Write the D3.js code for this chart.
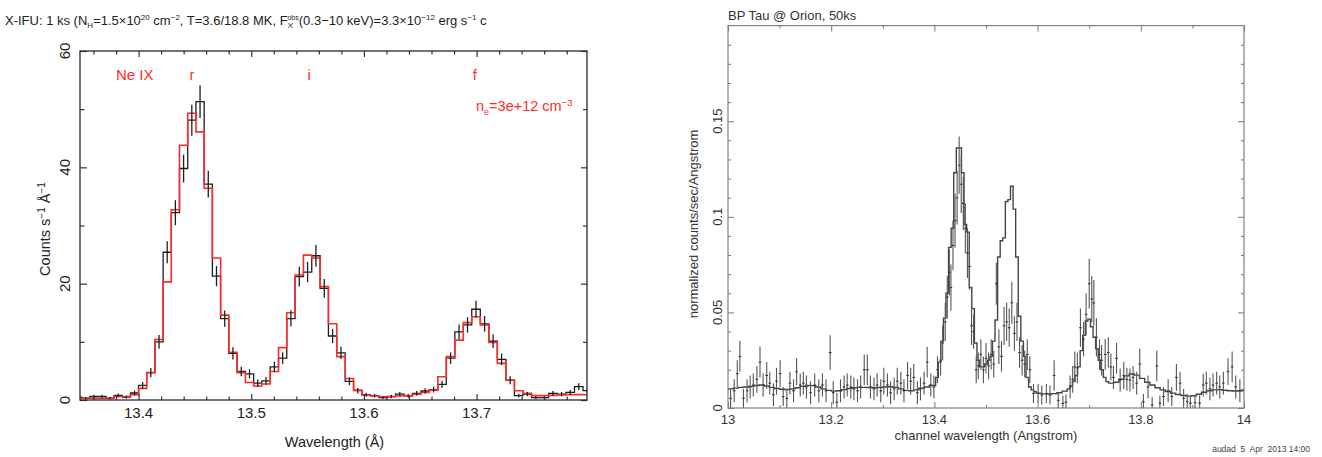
<!DOCTYPE html>
<html><head><meta charset="utf-8">
<script src="https://cdn.jsdelivr.net/npm/d3@7"></script>
<style>
body{margin:0;background:#fff}
svg{display:block}
text{font-family:"Liberation Sans", Arial, Helvetica, sans-serif}
</style>
</head><body>
<svg id="c" width="1322" height="457"></svg>
<script>
// ================= LEFT PANEL DATA (X-IFU, Ne IX triplet) =================
const leftBinEdges = [13.3424,13.3495,13.3567,13.3639,13.3711,13.3783,13.3855,13.3928,
  13.4000,13.4072,13.4145,13.4218,13.4290,13.4363,13.4436,13.4509,13.4582,13.4655,13.4728,13.4801,
  13.4874,13.4948,13.5021,13.5094,13.5168,13.5242,13.5315,13.5389,13.5463,13.5537,13.5611,13.5685,
  13.5759,13.5834,13.5908,13.5983,13.6057,13.6132,13.6206,13.6281,13.6356,13.6431,13.6506,13.6581,
  13.6656,13.6731,13.6807,13.6882,13.6957,13.7033,13.7109,13.7184,13.7260,13.7336,13.7412,13.7488,
  13.7564,13.7640,13.7716,13.7793,13.7869,13.7945,13.8022];
const leftCounts = [0.5,0.3,0.6,0.6,0.3,0.8,0.5,1.2,
  2.5,4.7,10.0,25.4,32.2,39.8,48.1,51.3,37.1,21.3,14.0,8.0,4.9,4.5,2.9,3.3,5.7,7.2,14.0,21.2,22.0,24.8,
  19.2,11.0,8.1,3.2,1.6,0.9,0.75,0.4,0.6,1.0,0.7,1.15,1.55,1.8,2.7,7.2,11.7,12.9,15.6,13.1,10.1,7.0,
  3.4,0.75,1.0,0.4,0.4,1.15,1.0,1.3,2.3,1.6];
const leftErr = [0.26,0.2,0.29,0.29,0.2,0.33,0.26,0.41,
  0.59,0.8,1.17,1.9,2.15,2.4,2.65,2.8,2.3,1.75,1.4,1.05,0.82,0.79,0.63,0.67,0.88,0.99,1.38,1.7,1.74,1.85,
  1.62,1.23,1.05,0.66,0.47,0.35,0.32,0.23,0.29,0.37,0.31,0.4,0.46,0.5,0.61,0.99,1.27,1.33,1.46,1.34,1.18,0.98,
  0.68,0.32,0.37,0.23,0.23,0.4,0.37,0.42,0.56,0.47];
const leftModel = [0.3,0.3,0.3,0.3,0.3,0.6,0.6,0.9,
  2.0,4.7,10.4,20.3,32.7,43.8,49.3,46.1,36.4,24.4,14.6,8.2,4.7,3.0,2.4,2.75,4.9,9.0,15.0,21.5,24.9,24.4,
  19.5,13.1,7.45,3.7,1.7,0.86,0.7,0.57,0.57,0.7,0.75,1.0,1.3,1.7,4.0,7.45,10.3,13.3,14.3,12.9,9.9,6.3,
  3.4,1.6,1.15,0.75,0.75,0.8,0.86,0.92,0.92,0.9];
const leftXTicks = [13.4,13.5,13.6,13.7];
const leftXTickLabels = ["13.4","13.5","13.6","13.7"];
const leftYTicks = [0,20,40,60];
const leftYTickLabels = ["0","20","40","60"];
const leftLines = [{label:"r", wl:13.4475},{label:"i", wl:13.5515},{label:"f", wl:13.6985}];

// ================= RIGHT PANEL DATA (BP Tau @ Orion, 50ks) =================
const rightModelEdges = [13.00,13.01,13.02,13.03,13.04,13.05,13.06,13.07,13.08,13.09,13.10,13.11,13.12,13.13,13.14,
  13.15,13.16,13.17,13.18,13.19,13.20,13.21,13.22,13.23,13.24,13.25,13.26,13.27,13.28,13.29,13.30,13.31,13.32,13.33,
  13.34,13.35,13.36,13.37,13.38,13.39,
  13.4025,13.4075,13.4125,13.4175,13.4225,13.4275,13.4325,13.4375,13.4425,13.4475,13.4525,13.4575,13.4625,13.4675,
  13.4725,13.4775,13.4825,13.4875,13.4925,13.4975,13.5025,13.5075,13.5125,13.5175,13.5225,13.5275,13.5325,13.5375,
  13.5425,13.5475,13.5525,13.5575,13.5625,13.5675,13.5725,13.5775,13.5825,13.5875,13.5925,
  13.5975,13.6075,13.6175,13.6275,13.6375,13.6475,13.6575,
  13.6625,13.6675,13.6725,13.6775,13.6825,13.6875,13.6925,13.6975,13.7025,13.7075,13.7125,13.7175,13.7225,13.7275,
  13.7325,13.7375,13.7425,13.7475,
  13.7575,13.7675,13.7775,13.7875,13.7975,13.8075,13.8175,13.8275,13.8375,13.8475,13.8575,13.8675,13.8775,13.8875,
  13.8975,13.9075,13.9175,13.9275,13.9375,13.9475,13.9575,13.9675,13.9775,13.9875,13.9975,14.0];
const rightModel = [0.0100,0.0104,0.0108,0.0110,0.0113,0.0118,0.0120,0.0115,0.0108,0.0102,0.0098,0.0097,0.0100,0.0106,
  0.0113,0.0118,0.0117,0.0110,0.0100,0.0092,0.0088,0.0090,0.0096,0.0102,0.0106,0.0108,0.0108,0.0107,0.0106,0.0107,
  0.0110,0.0111,0.0108,0.0100,0.0092,0.0090,0.0095,0.0103,0.0110,0.0118,
  0.016,0.024,0.035,0.047,0.060,0.084,0.094,0.123,0.136,0.136,0.123,0.096,0.092,0.063,0.052,0.034,0.025,0.0215,0.0215,
  0.023,0.025,0.027,0.035,0.046,0.079,0.0875,0.089,0.108,0.109,0.116,0.104,0.079,0.048,0.035,0.027,0.016,0.011,0.0095,0.0085,
  0.0078,0.0074,0.0073,0.0075,0.0080,0.0088,0.0100,
  0.0115,0.0140,0.0170,0.0215,0.0300,0.0380,0.0455,0.0465,0.0425,0.0370,0.0310,0.0250,0.0200,0.0160,0.0138,0.0130,0.0130,0.0135,
  0.0150,0.0168,0.0178,0.0172,0.0155,0.0135,0.0120,0.0106,0.0095,0.0086,0.0078,0.0071,0.0065,0.0062,0.0064,0.0072,0.0082,
  0.0090,0.0095,0.0096,0.0093,0.0090,0.0089,0.0090,0.0092];
const rightWl = [13.005,13.012,13.018,13.023,13.030,13.037,13.043,13.049,13.056,13.062,13.068,13.075,13.081,13.088,13.094,
  13.101,13.107,13.114,13.120,13.127,13.133,13.140,13.146,13.152,13.160,13.168,13.176,13.183,13.190,13.198,13.204,13.211,
  13.218,13.225,13.231,13.238,13.244,13.251,13.257,13.264,13.270,13.276,13.283,13.289,13.296,13.302,13.309,13.315,13.322,
  13.328,13.335,13.341,13.348,13.354,13.360,13.367,13.373,13.380,13.386,13.393,13.399,
  13.406,13.412,13.416,13.421,13.425,13.429,13.432,13.436,13.440,13.444,13.448,13.452,13.456,13.460,13.464,13.468,13.472,
  13.476,13.481,13.485,13.490,13.495,13.500,13.505,13.510,13.515,13.520,13.525,13.530,13.535,13.540,13.545,13.550,13.555,
  13.560,13.565,13.570,13.575,13.580,13.585,
  13.592,13.601,13.608,13.617,13.624,13.632,13.640,13.649,13.655,13.663,13.668,13.672,13.677,13.683,13.689,13.694,13.700,
  13.705,13.709,13.714,13.720,13.724,13.731,13.737,13.742,13.747,13.753,13.760,13.767,13.773,13.779,13.785,13.792,13.798,
  13.805,13.814,13.822,13.831,13.837,13.844,13.853,13.860,13.869,13.876,13.883,13.890,13.896,13.905,13.914,13.921,13.927,
  13.934,13.940,13.947,13.953,13.960,13.969,13.977,13.984,13.992];
const rightFlux = [0.005,0.009,0.018,0.027,0.005,0.009,0.011,0.012,0.015,0.024,0.012,0.017,0.013,0.007,0.014,
  0.018,0.006,0.005,0.013,0.009,0.019,0.012,0.013,0.011,0.008,0.012,0.009,0.012,0.009,0.029,0.008,0.003,
  0.009,0.011,0.012,0.011,0.010,0.009,0.011,0.020,0.020,0.011,0.010,0.012,0.009,0.014,0.012,0.008,0.010,
  0.014,0.013,0.009,0.017,0.014,0.016,0.008,0.010,0.013,0.024,0.012,0.011,
  0.020,0.025,0.034,0.045,0.058,0.071,0.063,0.085,0.098,0.110,0.127,0.117,0.107,0.094,0.081,0.074,0.043,
  0.040,0.020,0.022,0.028,0.020,0.026,0.022,0.028,0.023,0.065,0.032,0.027,0.043,0.045,0.042,0.055,0.039,
  0.045,0.029,0.025,0.023,0.028,0.020,
  0.0076,0.0076,0.0068,0.0076,0.0068,0.017,0.004,0.0024,0.003,0.011,0.015,0.0215,0.021,0.042,0.036,0.049,0.065,
  0.057,0.055,0.037,0.028,0.025,0.028,0.029,0.0215,0.016,0.026,0.0146,0.017,0.015,0.0146,0.016,0.013,0.023,
  0.0033,0.011,0.0016,0.022,0.0025,0.006,0.009,0.006,0.016,0.013,0.005,0.0033,0.0025,0.0028,0.0025,0.012,0.013,
  0.010,0.012,0.013,0.011,0.013,0.019,0.0215,0.011,0.009];
const rightErr = [0.005,0.006,0.007,0.008,0.005,0.006,0.006,0.006,0.007,0.008,0.006,0.007,0.006,0.006,0.007,
  0.007,0.005,0.005,0.006,0.006,0.007,0.006,0.006,0.006,0.006,0.006,0.006,0.006,0.006,0.009,0.006,0.005,
  0.006,0.006,0.006,0.006,0.006,0.006,0.006,0.008,0.008,0.006,0.006,0.006,0.006,0.007,0.006,0.006,0.006,
  0.007,0.006,0.006,0.007,0.007,0.007,0.006,0.006,0.006,0.008,0.006,0.006,
  0.007,0.008,0.009,0.010,0.011,0.012,0.012,0.013,0.014,0.014,0.015,0.015,0.014,0.013,0.013,0.012,0.010,
  0.009,0.007,0.007,0.008,0.007,0.008,0.007,0.008,0.007,0.011,0.009,0.008,0.010,0.010,0.010,0.011,0.009,
  0.010,0.008,0.008,0.007,0.008,0.007,
  0.005,0.005,0.005,0.005,0.005,0.008,0.004,0.004,0.004,0.006,0.007,0.008,0.008,0.010,0.009,0.011,0.013,
  0.012,0.012,0.010,0.008,0.008,0.008,0.008,0.007,0.006,0.008,0.006,0.007,0.006,0.006,0.006,0.006,0.008,
  0.004,0.006,0.004,0.008,0.004,0.005,0.006,0.005,0.007,0.006,0.005,0.004,0.004,0.004,0.004,0.006,0.006,
  0.006,0.006,0.006,0.006,0.006,0.007,0.008,0.006,0.006];
const rightXTicks = [13,13.2,13.4,13.6,13.8,14];
const rightXTickLabels = ["13","13.2","13.4","13.6","13.8","14"];
const rightYTicks = [0,0.05,0.1,0.15];
const rightYTickLabels = ["0","0.05","0.1","0.15"];

// ================= DRAWING =================
const svg = d3.select('#c');
const defs = svg.append('defs');

function stepPoints(edges, vals){
  const pts = vals.map((v,i)=>[edges[i], v]);
  pts.push([edges[vals.length], vals[vals.length-1]]);
  return pts;
}
function tickGroup(g, axis, transform){
  g.append('g').attr('transform', transform).call(axis)
    .call(s=>{ s.select('.domain').remove(); s.selectAll('text').remove(); });
}

// ---------- Left panel ----------
const L = {x0:80, x1:587, y0:51, y1:400};
const xL = d3.scaleLinear().domain([13.348, 13.798]).range([L.x0, L.x1]);
const yL = d3.scaleLinear().domain([0, 60]).range([L.y1, L.y0]);
defs.append('clipPath').attr('id','clipL').append('rect')
  .attr('x',L.x0).attr('y',L.y0).attr('width',L.x1-L.x0).attr('height',L.y1-L.y0);

const gL = svg.append('g');
const lineL = d3.line().x(d=>xL(d[0])).y(d=>yL(d[1])).curve(d3.curveStepAfter);
const plotL = gL.append('g').attr('clip-path','url(#clipL)');
plotL.append('path').attr('d', lineL(stepPoints(leftBinEdges, leftCounts)))
  .attr('fill','none').attr('stroke','#1e1e1e').attr('stroke-width',1.3);
plotL.append('path').attr('d', lineL(stepPoints(leftBinEdges, leftModel)))
  .attr('fill','none').attr('stroke','#ff2b2b').attr('stroke-width',1.6);
plotL.selectAll('line.err').data(leftCounts).join('line').attr('class','err')
  .attr('x1',(d,i)=>xL((leftBinEdges[i]+leftBinEdges[i+1])/2))
  .attr('x2',(d,i)=>xL((leftBinEdges[i]+leftBinEdges[i+1])/2))
  .attr('y1',(d,i)=>yL(d-leftErr[i])).attr('y2',(d,i)=>yL(d+leftErr[i]))
  .attr('stroke','#1e1e1e').attr('stroke-width',1.3);

const tickColL = '#333';
const minorXL = d3.range(13.36, 13.79, 0.02).map(v=>+v.toFixed(2)).filter(v=>!leftXTicks.some(t=>Math.abs(t-v)<1e-6));
const minorYL = [10,30,50];
tickGroup(gL, d3.axisBottom(xL).tickValues(leftXTicks).tickSize(-6), `translate(0,${L.y1})`);
tickGroup(gL, d3.axisBottom(xL).tickValues(minorXL).tickSize(-3.5), `translate(0,${L.y1})`);
tickGroup(gL, d3.axisTop(xL).tickValues(leftXTicks).tickSize(-6), `translate(0,${L.y0})`);
tickGroup(gL, d3.axisTop(xL).tickValues(minorXL).tickSize(-3.5), `translate(0,${L.y0})`);
tickGroup(gL, d3.axisLeft(yL).tickValues(leftYTicks).tickSize(-7), `translate(${L.x0},0)`);
tickGroup(gL, d3.axisLeft(yL).tickValues(minorYL).tickSize(-4.5), `translate(${L.x0},0)`);
tickGroup(gL, d3.axisRight(yL).tickValues(leftYTicks).tickSize(-6), `translate(${L.x1},0)`);
tickGroup(gL, d3.axisRight(yL).tickValues(minorYL).tickSize(-4), `translate(${L.x1},0)`);
gL.selectAll('.tick line').attr('stroke',tickColL).attr('stroke-width',1.2);
gL.append('rect').attr('x',L.x0).attr('y',L.y0).attr('width',L.x1-L.x0).attr('height',L.y1-L.y0)
  .attr('fill','none').attr('stroke','#2a2a2a').attr('stroke-width',1.3);

gL.selectAll('text.xt').data(leftXTicks).join('text').attr('class','xt')
  .attr('x',d=>xL(d)).attr('y',418).attr('text-anchor','middle')
  .attr('font-size',15).attr('fill','#222').text((d,i)=>leftXTickLabels[i]);
gL.selectAll('text.yt').data(leftYTicks).join('text').attr('class','yt')
  .attr('transform',d=>`translate(70,${yL(d)}) rotate(-90)`).attr('text-anchor','middle')
  .attr('font-size',15).attr('fill','#222').text((d,i)=>leftYTickLabels[i]);
gL.append('text').attr('x',(L.x0+L.x1)/2+1).attr('y',447).attr('text-anchor','middle')
  .attr('font-size',14.5).attr('fill','#222').text('Wavelength (Å)');

function richText(sel, parts){
  // parts: [text, shift(px, + = down), size, dx]
  let cur = 0;
  parts.forEach(p=>{
    const t = sel.append('tspan').text(p[0]);
    const shift = p[1]||0;
    t.attr('dy', shift-cur); cur = shift;
    if(p[2]) t.attr('font-size', p[2]);
    if(p[3]) t.attr('dx', p[3]);
  });
  return sel;
}
// y title
const yTitleL = gL.append('text').attr('transform','translate(50,229) rotate(-90)')
  .attr('text-anchor','middle').attr('font-size',14.5).attr('fill','#222');
richText(yTitleL, [["Counts s",0],["−1",-5,10],[" Å",0],["−1",-5,10],["",0]]);

// main title
const titleL = svg.append('text').attr('x',5).attr('y',25).attr('font-size',13).attr('fill','#222')
  .attr('xml:space','preserve');
richText(titleL, [
  ["X-IFU: 1 ks (N",0],["H",3,8],["=1.5×10",0],["20",-5,8],[" cm",0],["−2",-5,8],
  [", T=3.6/18.8 MK, F",0],["X",3,8],["obs",-5,7,-5.5],["(0.3−10 keV)=3.3×10",0],["−12",-5,8],
  [" erg s",0],["−1",-5,8],[" c",0]
]);

// red annotations
const red = '#ff2b2b';
gL.append('text').attr('x',116).attr('y',80).attr('font-size',15).attr('fill',red).text('Ne IX');
gL.selectAll('text.ln').data(leftLines).join('text').attr('class','ln')
  .attr('x',d=>xL(d.wl)).attr('y',80).attr('text-anchor','middle').attr('font-size',15).attr('fill',red).text(d=>d.label);
const ne = gL.append('text').attr('x',476).attr('y',111).attr('font-size',14.5).attr('fill',red);
richText(ne, [["n",0],["e",4,9],["=3e+12 cm",0],["−3",-5,9.5],["",0]]);

// ---------- Right panel ----------
const R = {x0:728, x1:1244, y0:25.6, y1:408};
const xR = d3.scaleLinear().domain([13, 14]).range([R.x0, R.x1]);
const yR = d3.scaleLinear().domain([0, 0.2]).range([R.y1, R.y0]);
defs.append('clipPath').attr('id','clipR').append('rect')
  .attr('x',R.x0).attr('y',R.y0).attr('width',R.x1-R.x0).attr('height',R.y1-R.y0);
const gR = svg.append('g');
const grey = '#555';
const lineR = d3.line().x(d=>xR(d[0])).y(d=>yR(d[1])).curve(d3.curveStepAfter);
const plotR = gR.append('g').attr('clip-path','url(#clipR)');
plotR.append('path').attr('d', lineR(stepPoints(rightModelEdges, rightModel)))
  .attr('fill','none').attr('stroke','#444').attr('stroke-width',1.4);
plotR.selectAll('line.ev').data(rightFlux).join('line').attr('class','ev')
  .attr('x1',(d,i)=>xR(rightWl[i])).attr('x2',(d,i)=>xR(rightWl[i]))
  .attr('y1',(d,i)=>yR(Math.max(0,d-rightErr[i]))).attr('y2',(d,i)=>yR(d+rightErr[i]))
  .attr('stroke',grey).attr('stroke-width',1.1);
plotR.selectAll('line.eh').data(rightFlux).join('line').attr('class','eh')
  .attr('x1',(d,i)=>xR(rightWl[i]-0.0025)).attr('x2',(d,i)=>xR(rightWl[i]+0.0025))
  .attr('y1',d=>yR(d)).attr('y2',d=>yR(d))
  .attr('stroke','#333').attr('stroke-width',1.1);

const minorXR = [13.1,13.3,13.5,13.7,13.9];
const minorYR = d3.range(0.01, 0.195, 0.01).map(v=>+v.toFixed(2)).filter(v=>!rightYTicks.some(t=>Math.abs(t-v)<1e-6));
tickGroup(gR, d3.axisBottom(xR).tickValues(rightXTicks).tickSize(-6), `translate(0,${R.y1})`);
tickGroup(gR, d3.axisBottom(xR).tickValues(minorXR).tickSize(-3), `translate(0,${R.y1})`);
tickGroup(gR, d3.axisTop(xR).tickValues(rightXTicks).tickSize(-6), `translate(0,${R.y0})`);
tickGroup(gR, d3.axisTop(xR).tickValues(minorXR).tickSize(-3), `translate(0,${R.y0})`);
tickGroup(gR, d3.axisLeft(yR).tickValues(rightYTicks).tickSize(-6), `translate(${R.x0},0)`);
tickGroup(gR, d3.axisLeft(yR).tickValues(minorYR).tickSize(-3), `translate(${R.x0},0)`);
tickGroup(gR, d3.axisRight(yR).tickValues(rightYTicks).tickSize(-6), `translate(${R.x1},0)`);
tickGroup(gR, d3.axisRight(yR).tickValues(minorYR).tickSize(-3), `translate(${R.x1},0)`);
gR.selectAll('.tick line').attr('stroke','#777').attr('stroke-width',1);
gR.append('rect').attr('x',R.x0).attr('y',R.y0).attr('width',R.x1-R.x0).attr('height',R.y1-R.y0)
  .attr('fill','none').attr('stroke','#808080').attr('stroke-width',1.2);

gR.selectAll('text.xt').data(rightXTicks).join('text').attr('class','xt')
  .attr('x',d=>xR(d)).attr('y',424).attr('text-anchor','middle')
  .attr('font-size',13).attr('fill','#333').text((d,i)=>rightXTickLabels[i]);
gR.selectAll('text.yt').data(rightYTicks).join('text').attr('class','yt')
  .attr('transform',d=>`translate(722,${yR(d)}) rotate(-90)`).attr('text-anchor','middle')
  .attr('font-size',13).attr('fill','#333').text((d,i)=>rightYTickLabels[i]);
gR.append('text').attr('x',(R.x0+R.x1)/2).attr('y',440).attr('text-anchor','middle')
  .attr('font-size',13).attr('fill','#333').text('channel wavelength (Angstrom)');
gR.append('text').attr('transform','translate(698,224) rotate(-90)').attr('text-anchor','middle')
  .attr('font-size',13).attr('fill','#333').text('normalized counts/sec/Angstrom');
gR.append('text').attr('x',728).attr('y',20).attr('font-size',13).attr('fill','#333').text('BP Tau @ Orion, 50ks');
gR.append('text').attr('x',1310).attr('y',452).attr('text-anchor','end').attr('font-size',8.5)
  .attr('fill','#444').attr('xml:space','preserve').text('audad  5  Apr  2013 14:00');
</script>
</body></html>
